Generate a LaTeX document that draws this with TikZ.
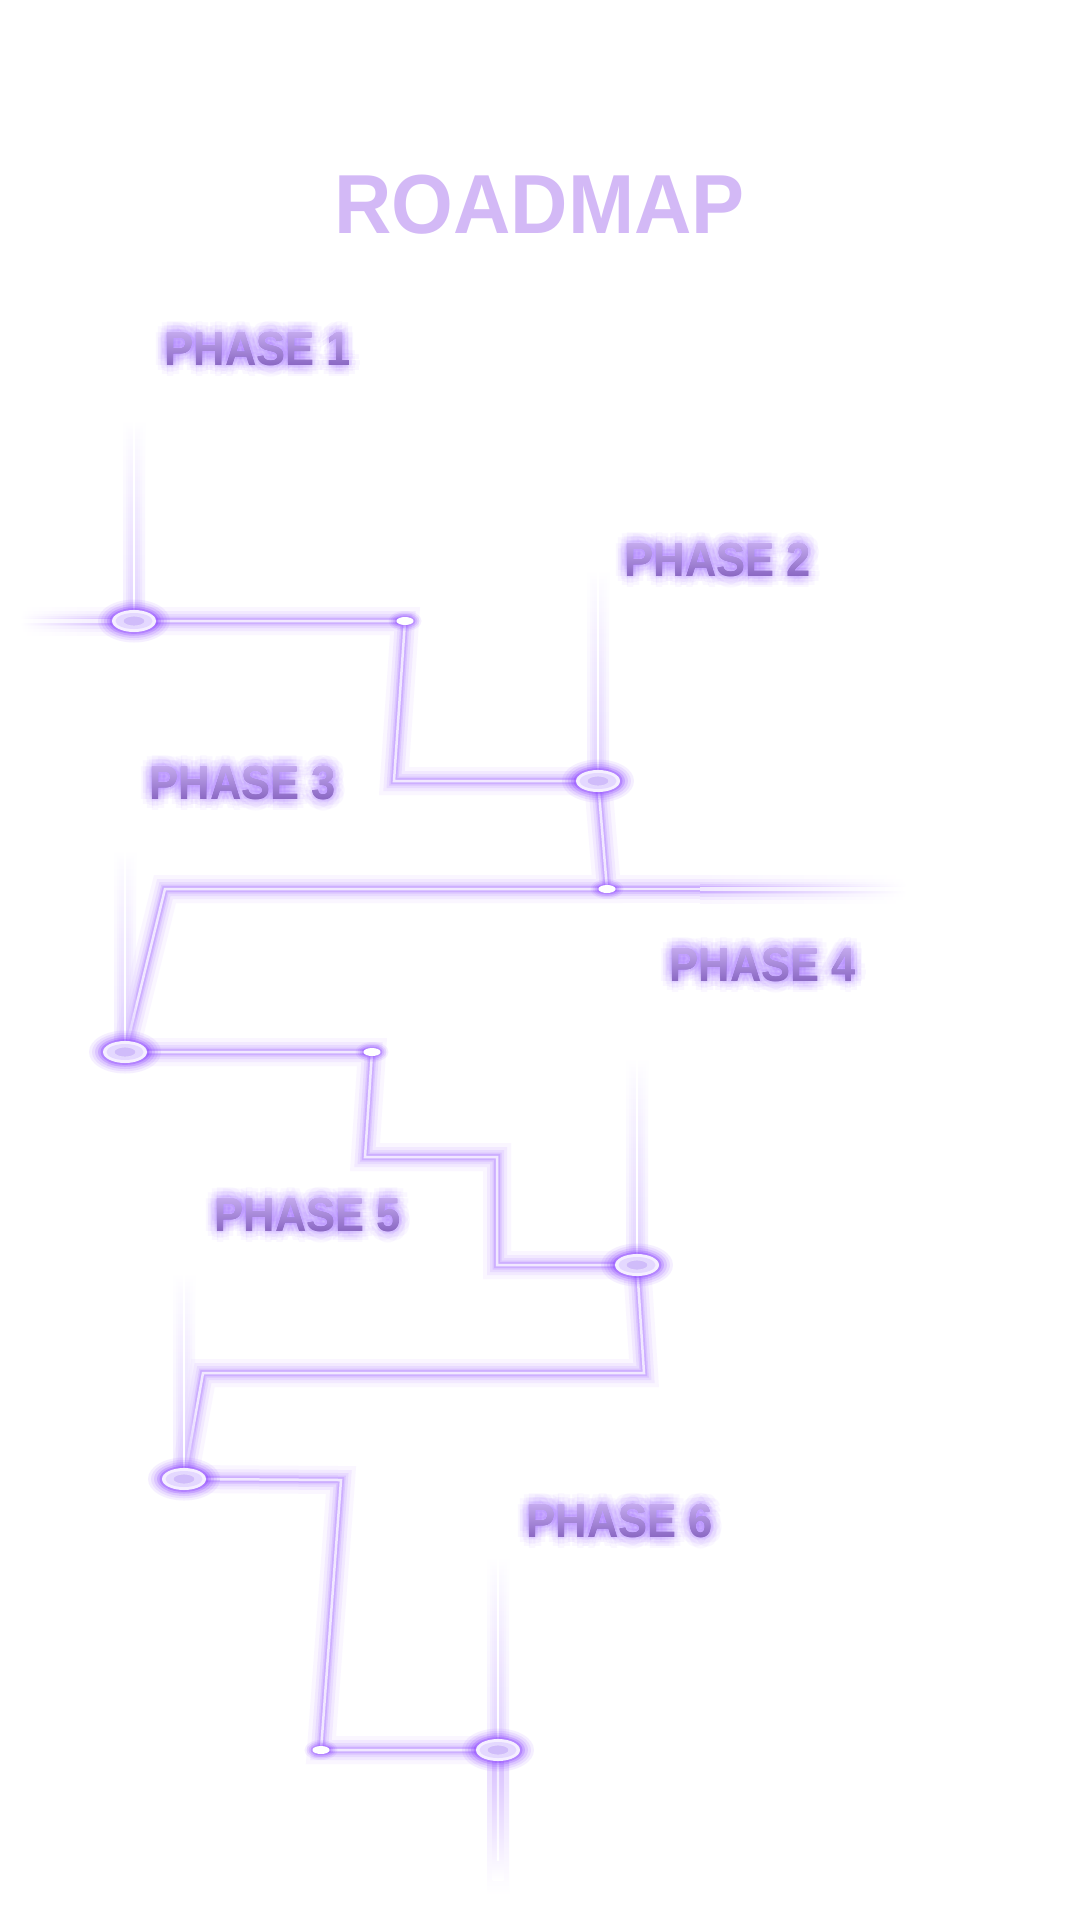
\documentclass[tikz,border=0pt]{standalone}
\usepackage{fontspec}
\setmainfont{Liberation Sans}
\usepackage{graphicx}
\usetikzlibrary{calc}
\pgfdeclarelayer{bg}
\pgfsetlayers{bg,main}

\definecolor{titlecol}{HTML}{D3B9F6}
\definecolor{glowcol}{HTML}{A36BFF}
\definecolor{ptop}{HTML}{C9B0F2}
\definecolor{pmid}{HTML}{B382FA}
\definecolor{pbot}{HTML}{8461BE}
\definecolor{tga}{HTML}{FAF6FF}
\definecolor{tgb}{HTML}{F2E9FF}
\definecolor{tgc}{HTML}{E8DAFF}
\definecolor{tgd}{HTML}{DCC6FF}
\definecolor{tge}{HTML}{CDAFFF}
\definecolor{tgf}{HTML}{F1E8FF}
\definecolor{bmb}{HTML}{D9C4FF}
\definecolor{bmc}{HTML}{D5BBFF}
\definecolor{nodeglow}{HTML}{8A3FFF}
\definecolor{ringcol}{HTML}{F5EFFF}
\definecolor{ringin}{HTML}{E4D8FF}
\definecolor{innerfill}{HTML}{D0BCFA}

\newcommand{\ptxt}[1]{\scalebox{0.915}[1]{#1}}

% name, x, baseline y, text
\newcommand{\phaselabel}[4]{%
  \foreach \a in {0,30,...,330}{%
    \foreach \r in {3,7,11}{%
      \node (#1g\a\r) [phasetxt, text=glowcol, opacity=0.05] at ($(#2,#3)+(\a:\r)$) {\ptxt{#4}};
    }%
  }%
  \node (#1) [phasetxt, text=pbot] at (#2,#3) {\ptxt{#4}};
  \begin{scope}[blend mode=lighten]
    \shade[top color=ptop, middle color=pmid, bottom color=pbot]
      ($(#1.south west)+(-2,3)$) rectangle ($(#1.north east)+(2,-3)$);
  \end{scope}
}

% beam above a node: x, ytop, ybottom
\newcommand{\beamup}[3]{%
  \foreach \h in {11,8,5.5,3.5}{%
    \shade[top color=white, bottom color=bmb, opacity=0.28] ({#1-\h},#2) rectangle ({#1+\h},#3);
  }%
  \shade[top color=white, bottom color=white] ({#1-0.6},#2) rectangle ({#1+0.6},#3);
}

\newcommand{\bignode}[1]{%
  \foreach \s/\o in {14/0.08, 11/0.10, 8/0.14, 5/0.22, 2.5/0.32}{%
    \fill[nodeglow, opacity=\o] (#1) ellipse [x radius={22+\s}, y radius={11+\s*0.75}];
  }%
  \fill[ringcol] (#1) ellipse [x radius=22, y radius=11];
  \fill[ringin] (#1) ellipse [x radius=18.5, y radius=8];
  \fill[innerfill] (#1) ellipse [x radius=11, y radius=5];
  \draw[ringcol!60!innerfill, line width=0.8pt] (#1) ellipse [x radius=11, y radius=5];
}

\newcommand{\smalldot}[1]{%
  \foreach \s/\o in {8/0.08, 6/0.12, 4/0.16, 2/0.24}{%
    \fill[nodeglow, opacity=\o] (#1) ellipse [x radius={8.5+\s}, y radius={4+\s*0.75}];
  }%
  \fill[white] (#1) ellipse [x radius=8.5, y radius=4];
}

\begin{document}
\begin{tikzpicture}[x=1pt,y=-1pt,
  phasetxt/.style={font=\bfseries\fontsize{47.5}{50}\selectfont, inner sep=0pt, anchor=base west},
  titletxt/.style={font=\bfseries\fontsize{83.8}{90}\selectfont, text=titlecol, inner sep=0pt, anchor=base}]
\begin{pgfonlayer}{bg}
\fill[white] (0,0) rectangle (1080,1920);
\end{pgfonlayer}
\useasboundingbox (0,0) rectangle (1080,1920);

% key points
\coordinate (n1) at (134,621);
\coordinate (d1) at (405,621);
\coordinate (c1) at (394,781);
\coordinate (n2) at (598,781);
\coordinate (d2) at (607,889);
\coordinate (r2) at (700,889);
\coordinate (c2) at (165,889);
\coordinate (n3) at (125,1052);
\coordinate (d3) at (372,1052);
\coordinate (c3) at (365,1157);
\coordinate (c4) at (497,1157);
\coordinate (c5) at (497,1265);
\coordinate (n4) at (637,1265);
\coordinate (c6) at (644,1373);
\coordinate (c7) at (203,1373);
\coordinate (n5) at (184,1479);
\coordinate (c8) at (341,1480);
\coordinate (d6) at (321,1750);
\coordinate (n6) at (498,1750);

% glowing tube
\foreach \w/\c in {28/tga, 20/tgb, 14/tgc, 9/tgd, 6/tge, 2.5/tgf}{%
  \draw[line width=\w pt, color=\c, line join=miter]
    (n1) -- (d1) -- (c1) -- (n2) -- (d2) -- (c2) -- (n3) -- (d3) -- (c3) -- (c4) -- (c5) -- (n4)
    -- (c6) -- (c7) -- (n5) -- (c8) -- (d6) -- (n6);
  \draw[line width=\w pt, color=\c] (d2) -- (r2);
  \shade[left color=\c, right color=white] (r2) ++(0,{-\w/2}) rectangle (907,{889+\w/2});
  \shade[left color=white, right color=\c] (20,{621-\w/2}) rectangle (n1 |- 0,{621+\w/2});
}

% vertical beams
\beamup{134}{420}{621}
\beamup{598}{570}{781}
\beamup{125}{850}{1052}
\beamup{637}{1058}{1265}
\beamup{184}{1273}{1479}
\beamup{498}{1557}{1750}
% beam below the last node
\shade[top color=tgc, bottom color=white] (487,1750) rectangle (509,1895);
\shade[top color=bmc, bottom color=white] (492.5,1750) rectangle (503.5,1880);
\shade[top color=tgf, bottom color=white] (496.8,1750) rectangle (499.2,1860);

% nodes
\bignode{n1}
\bignode{n2}
\bignode{n3}
\bignode{n4}
\bignode{n5}
\bignode{n6}
\smalldot{d1}
\smalldot{d2}
\smalldot{d3}
\smalldot{d6}

% title
\node (title) [titletxt] at (539.5,233) {\scalebox{0.948}[1]{ROADMAP}};

% phase labels
\phaselabel{pa}{164.7}{365}{PHASE 1}
\phaselabel{pb}{624.7}{576}{PHASE 2}
\phaselabel{pc}{149.7}{799}{PHASE 3}
\phaselabel{pd}{669.7}{981}{PHASE 4}
\phaselabel{pe}{214.7}{1231}{PHASE 5}
\phaselabel{pf}{526.7}{1537}{PHASE 6}
\end{tikzpicture}
\end{document}
